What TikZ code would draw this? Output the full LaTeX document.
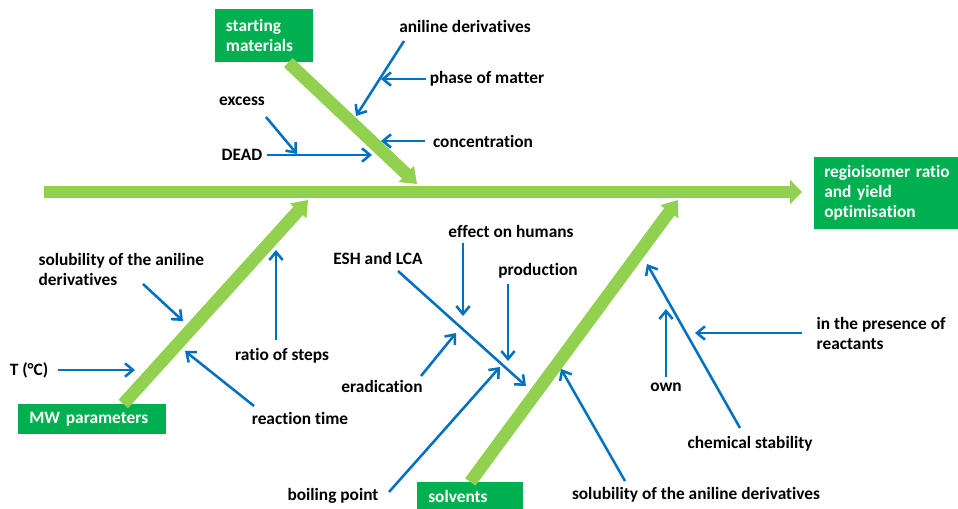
\documentclass[tikz,border=0pt]{standalone}
\usepackage{fontspec}
\setmainfont[Ligatures=NoCommon]{Carlito}
\usetikzlibrary{arrows.meta,positioning}
\definecolor{bonegreen}{HTML}{92D050}
\definecolor{boxgreen}{HTML}{00B050}
\definecolor{subblue}{HTML}{0070C0}

\begin{document}
\begin{tikzpicture}[
  x=0.75pt, y=-0.75pt,
  every node/.style={font=\bfseries\fontsize{13}{15}\selectfont, inner sep=1pt, align=left},
  causebox/.style={fill=boxgreen, text=white, anchor=north west, inner xsep=8pt, inner ysep=0pt},
  spine/.style={draw=bonegreen, line width=9pt, -{Triangle[length=9pt,width=18pt]}},
  bone/.style={draw=bonegreen, line width=9.5pt, -{Triangle[length=11pt,width=16pt]}},
  sub/.style={draw=subblue, line width=1.9pt, -{Straight Barb[length=6pt,width=10pt]}}
]
\useasboundingbox (0,0) rectangle (958,508);

% effect and main causes
\node[causebox, minimum width=108pt, minimum height=54pt, text width=110pt, inner xsep=7.5pt]
  (eff) at (814,157) {regioisomer ratio\\and yield\\optimisation};
\node[causebox, minimum width=73.5pt, minimum height=39.75pt, text width=57.5pt]
  (sm) at (215,9) {starting\\materials};
\node[causebox, minimum width=111pt, minimum height=22.5pt, text width=94.5pt, inner xsep=8.25pt]
  (mw) at (18,404) {MW parameters};
\node[causebox, minimum width=79.5pt, minimum height=21pt, text width=63pt, inner xsep=8.25pt]
  (sv) at (417,482) {solvents};

% spine and bones
\coordinate (tail) at (44,192);
\coordinate (head) at ([xshift=-9pt]eff.west);
\coordinate (smtip) at (417,184);
\coordinate (mwtip) at (308,200);
\coordinate (svtip) at (678,200);
\draw[spine] (tail) -- (tail -| head);
\draw[bone] ([xshift=18pt]sm.south) -- (smtip);
\draw[bone] ([xshift=23.25pt]mw.north) -- (mwtip);
\draw[bone] (sv.north) -- (svtip);

% starting materials
\node (an) at (465,26) {aniline derivatives};
\node (ph) at (487,79) {phase of matter};
\node (co) at (483,141) {concentration};
\node (ex) at (242,101) {excess};
\node (de) at (242,155) {DEAD};
\coordinate (anhead) at (356,116);
\coordinate (phhead) at (381,79);
\coordinate (cohead) at (381,141);
\coordinate (exhead) at (297,154);
\coordinate (dehead) at (372,155);
\draw[sub] ([shift={(-61,15)}]an.center) -- (anhead);
\draw[sub] ([shift={(-61,0)}]ph.center) -- (phhead);
\draw[sub] ([shift={(-58,0)}]co.center) -- (cohead);
\draw[sub] ([shift={(24,16)}]ex.center) -- (exhead);
\draw[sub] ([shift={(25,0)}]de.center) -- (dehead);

% MW parameters
\node[anchor=west] (so1) at (37,269) {solubility of the aniline\\derivatives};
\node (t) at (29,370) {T (°C)};
\node (ra) at (282,356) {ratio of steps};
\node (rt) at (300,418) {reaction time};
\coordinate (so1head) at (183,321);
\coordinate (thead) at (135,370);
\coordinate (rahead) at (276,250);
\coordinate (rthead) at (185,351);
\draw[sub] ([shift={(106,15)}]so1.west) -- (so1head);
\draw[sub] ([shift={(29,0)}]t.center) -- (thead);
\draw[sub] ([shift={(-6,-16)}]ra.center) -- (rahead);
\draw[sub] ([shift={(-46,-12)}]rt.center) -- (rthead);

% solvents
\node (esh) at (378,258) {ESH and LCA};
\node (ef) at (511,231) {effect on humans};
\node (pr) at (538,271) {production};
\node (er) at (382,386) {eradication};
\node (bp) at (333,496) {boiling point};
\node (so2) at (696,495) {solubility of the aniline derivatives};
\node (cs) at (750,444) {chemical stability};
\node (ow) at (666,387) {own};
\node[anchor=west] (pres) at (815,333) {in the presence of\\reactants};
\coordinate (eshhead) at (526,386);
\coordinate (efhead) at (463,316);
\coordinate (prhead) at (508,361);
\coordinate (erhead) at (456,333);
\coordinate (bphead) at (500,367);
\coordinate (so2head) at (561,369);
\coordinate (cshead) at (647,264);
\coordinate (owhead) at (666,309);
\coordinate (preshead) at (695,333);
\draw[sub] ([shift={(20,13)}]esh.center) -- (eshhead);
\draw[sub] ([shift={(-48,12)}]ef.center) -- (efhead);
\draw[sub] ([shift={(-30,13)}]pr.center) -- (prhead);
\draw[sub] ([shift={(39,-10)}]er.center) -- (erhead);
\draw[sub] ([shift={(56,-4)}]bp.center) -- (bphead);
\draw[sub] ([shift={(-71,-14)}]so2.center) -- (so2head);
\draw[sub] ([shift={(-10,-16)}]cs.center) -- (cshead);
\draw[sub] ([shift={(0,-10)}]ow.center) -- (owhead);
\draw[sub] ([shift={(-13,0)}]pres.west) -- (preshead);
\end{tikzpicture}
\end{document}
